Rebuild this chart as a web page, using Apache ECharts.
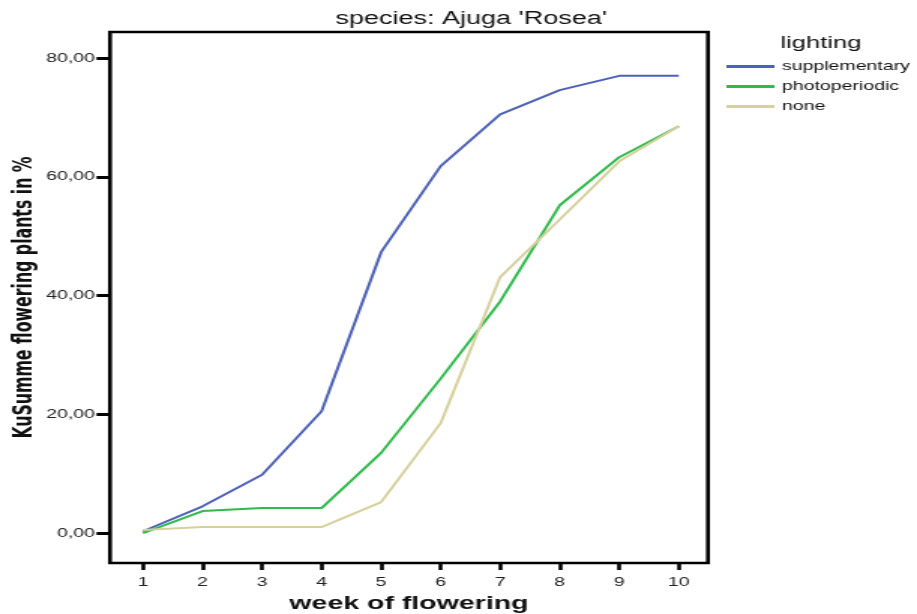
<!DOCTYPE html>
<html><head><meta charset="utf-8">
<script src="https://cdn.jsdelivr.net/npm/echarts@6/dist/echarts.min.js"></script>
<style>
html,body{margin:0;padding:0;background:#fff;overflow:hidden}
#wrap{width:917px;height:614px;overflow:hidden;position:relative}
#c{width:611px;height:614px;transform:scaleX(1.50082);transform-origin:0 0}
</style>
</head><body><div id="wrap"><div id="c"></div></div>
<script>
const weeks = [1,2,3,4,5,6,7,8,9,10];
const supplementary = [0.3,4.5,9.8,20.5,47.3,61.8,70.5,74.6,77.0,77.0];
const photoperiodic = [0.0,3.7,4.2,4.2,13.5,26.0,39.0,55.2,63.3,68.5];
const none = [0.5,1.0,1.0,1.0,5.2,18.5,43.1,52.8,62.6,68.5];
const yTicks = [0,20,40,60,80];
const seriesNames = ['supplementary','photoperiodic','none'];
const colors = ['#4d62b6','#2fba4c','#d6d09c'];

// the reference image is stretched horizontally by ~1.5; the chart is laid out
// in a narrower box and widened with a CSS scaleX on its container.
const pairs = arr => weeks.map((w,i)=>[w,arr[i]]);
const chart = echarts.init(document.getElementById('c'));
chart.setOption({
  animation:false,
  title:{text:"species: Ajuga 'Rosea'",left:309,top:5,textAlign:'center',
    textStyle:{fontFamily:'Liberation Sans',fontWeight:'normal',fontSize:18,color:'#111'}},
  graphic:[{type:'text',left:520,top:35,style:{text:'lighting',font:'17px "Liberation Sans"',fill:'#111'}}],
  legend:{orient:'vertical',left:479,top:55,itemWidth:32,itemHeight:12,itemGap:7,
    textStyle:{fontFamily:'Liberation Sans',fontSize:13,color:'#111'},
    data:seriesNames.map(n=>({name:n,icon:'path://M0,5 L32,5 L32,8 L0,8 Z'}))},
  grid:{left:73.3,right:139.3,top:32,bottom:51,show:true,borderColor:'#000',borderWidth:2.6,
    backgroundColor:'transparent',outerBoundsMode:'none',containLabel:false},
  xAxis:{type:'value',min:0.446,max:10.49,
    name:'week of flowering',nameLocation:'middle',nameGap:31,nameMoveOverlap:false,
    nameTextStyle:{fontFamily:'Liberation Sans',fontWeight:'bold',fontSize:19,color:'#111'},
    axisLine:{show:false,onZero:false},splitLine:{show:false},
    axisTick:{show:true,length:7,lineStyle:{color:'#000',width:2.6},customValues:weeks},
    axisLabel:{customValues:weeks,fontFamily:'Liberation Sans',fontSize:13,color:'#222',margin:13,formatter:v=>String(v)}},
  yAxis:{type:'value',min:-5.05,max:84.38,
    name:'KuSumme flowering plants in %',nameLocation:'middle',nameGap:48,nameRotate:90,nameMoveOverlap:false,
    nameTextStyle:{fontFamily:"'DejaVu Sans Condensed','Liberation Sans',sans-serif",fontWeight:'bold',fontSize:17.5,color:'#111'},
    axisLine:{show:false,onZero:false},splitLine:{show:false},
    axisTick:{show:true,length:9,lineStyle:{color:'#000',width:3},customValues:yTicks},
    axisLabel:{customValues:yTicks,fontFamily:'Liberation Sans',fontSize:13,color:'#222',margin:10,
      formatter:v=>v.toFixed(2).replace('.',',')}},
  series:[
    {name:seriesNames[0],type:'line',data:pairs(supplementary),symbol:'none',lineStyle:{width:2,color:colors[0]},itemStyle:{color:colors[0]}},
    {name:seriesNames[1],type:'line',data:pairs(photoperiodic),symbol:'none',lineStyle:{width:2,color:colors[1]},itemStyle:{color:colors[1]}},
    {name:seriesNames[2],type:'line',data:pairs(none),symbol:'none',lineStyle:{width:2,color:colors[2]},itemStyle:{color:colors[2]}}
  ]
});
</script></body></html>
